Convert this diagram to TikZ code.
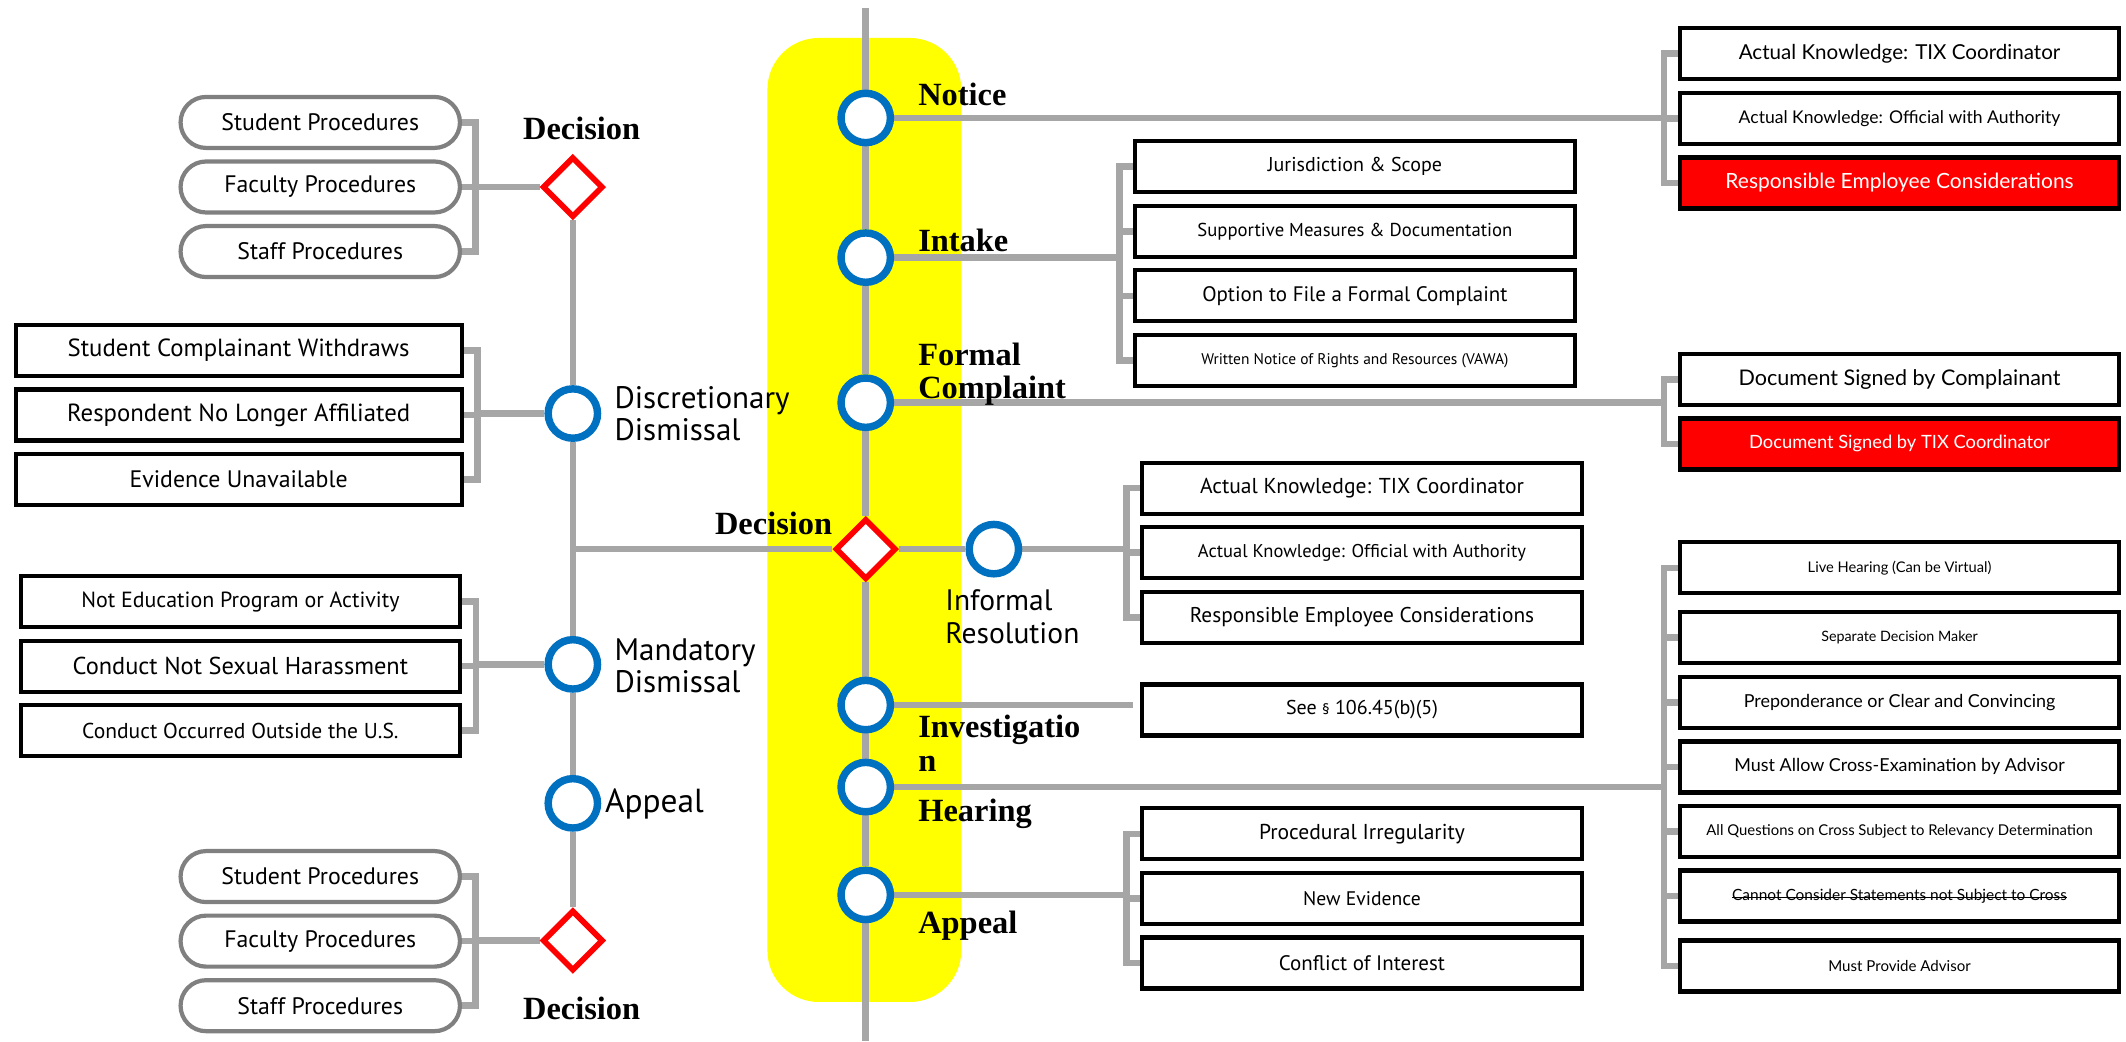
\documentclass[tikz,border=0pt]{standalone}
\usepackage{fontspec}
\setmainfont{PT Sans}
\newfontfamily\stagefont{Liberation Serif}
\newfontfamily\reqfont{Lato}
\usetikzlibrary{positioning,shapes.geometric,backgrounds}

\definecolor{linegray}{RGB}{166,166,166}
\definecolor{stopblue}{RGB}{0,112,192}
\definecolor{pillgray}{RGB}{128,128,128}
\definecolor{hilite}{RGB}{255,255,0}
\definecolor{flagred}{RGB}{255,0,0}

\newcommand\fsz[1]{\fontsize{#1}{#1}\selectfont}
\newsavebox\strikebox
\newcommand\strikeout[1]{\sbox\strikebox{#1}\rlap{\rule[0.3ex]{\wd\strikebox}{0.5pt}}\usebox\strikebox}

\tikzset{
  conn/.style={draw=linegray, line width=3.5pt},
  station/.style={circle, draw=stopblue, line width=3.9pt, fill=white,
    minimum size=0.91cm, inner sep=0pt},
  gate/.style={diamond, draw=flagred, line width=3pt, fill=white,
    minimum width=1.12cm, minimum height=1.12cm, inner sep=0pt},
  stagelab/.style={inner sep=0pt, align=left,
    font=\stagefont\bfseries\fontsize{17}{17.8}\selectfont},
  sidelab/.style={inner sep=0pt, align=left, font=\fontsize{16.3}{17}\selectfont},
  optbox/.style={rectangle, draw=black, line width=2.2pt, fill=white,
    minimum width=8.1cm, minimum height=0.94cm, inner sep=0pt, outer sep=0pt,
    font=\fsz{12.5}},
  pillbox/.style={optbox, draw=pillgray, rounded corners=0.47cm,
    minimum width=5.15cm},
  reqbox/.style={optbox, font=\reqfont\fsz{9}},
  redbox/.style={reqbox, fill=flagred, text=white},
  node distance=0.25cm
}

\begin{document}
\begin{tikzpicture}[x=0.025cm, y=-0.025cm]
\useasboundingbox (0,0) rectangle (1568,768);

% main line
\coordinate (top) at (638.5,6);
\coordinate (bottom) at (638.5,768);
\node[station] (notice) at (638.5,87) {};
\node[station] (intake) at (638.5,190) {};
\node[station] (formal) at (638.5,297) {};
\node[gate] (decision) at (638.5,405) {};
\node[station] (informal) at (733,405) {};
\node[station] (invest) at (638.5,520) {};
\node[station] (hearing) at (638.5,580.5) {};
\node[station] (appeal) at (638.5,660) {};

\node[stagelab, anchor=west] (noticelab) at (677,70) {Notice};
\node[stagelab, anchor=west] (intakelab) at (677,177) {Intake};
\node[stagelab, anchor=west] (formallab) at (677,276) {Formal\\Complaint};
\node[stagelab, anchor=east] (decisionlab) at (614,386) {Decision};
\node[sidelab, anchor=west, font=\fontsize{15.5}{17}\selectfont] (informallab) at (697,455) {Informal\\Resolution};
\node[stagelab, anchor=west] (investlab) at (677,548.5) {Investigatio\\n};
\node[stagelab, anchor=west] (hearinglab) at (677,600) {Hearing};
\node[stagelab, anchor=west] (appeallab) at (677,683) {Appeal};

% left line
\node[gate] (gtop) at (422.5,138) {};
\node[station] (disc) at (422.5,305) {};
\node[station] (mand) at (422.5,490) {};
\node[station] (lappeal) at (422.5,592.5) {};
\node[gate] (gbot) at (422.5,693.7) {};

\node[stagelab] (gtoplab) at (429,94.5) {Decision};
\node[sidelab, anchor=west] (disclab) at (453,305) {Discretionary\\Dismissal};
\node[sidelab, anchor=west] (mandlab) at (453,491) {Mandatory\\Dismissal};
\node[sidelab, anchor=west, font=\fsz{17.5}] (lappeallab) at (446,593) {Appeal};
\node[stagelab] (gbotlab) at (429,743.5) {Decision};

% notice
\node[reqbox, font=\reqfont\fsz{10.8}] (nk1) at (1401,39.7) {Actual Knowledge: TIX Coordinator};
\node[reqbox, font=\reqfont\fsz{9.2}, below=of nk1] (nk2) {Actual Knowledge: Official with Authority};
\node[redbox, font=\reqfont\fsz{11}, below=of nk2] (nk3) {Responsible Employee Considerations};
\coordinate[left=0.29cm of nk1.west] (nkb);

% intake
\node[optbox, font=\fsz{10.5}] (ik1) at (999.3,123) {Jurisdiction \& Scope};
\node[optbox, font=\fsz{9.8}, below=of ik1] (ik2) {Supportive Measures \& Documentation};
\node[optbox, font=\fsz{11}, below=of ik2] (ik3) {Option to File a Formal Complaint};
\node[optbox, font=\fsz{8.1}, below=of ik3] (ik4) {Written Notice of Rights and Resources (VAWA)};
\coordinate[left=0.29cm of ik1.west] (ikb);

% formal complaint
\node[reqbox, font=\reqfont\fsz{11.3}] (fk1) at (1401,279.8) {Document Signed by Complainant};
\node[redbox, font=\reqfont\fsz{9.6}, below=of fk1] (fk2) {Document Signed by TIX Coordinator};
\coordinate[left=0.29cm of fk1.west] (fkb);

% informal resolution
\node[optbox, font=\fsz{11.3}] (rk1) at (1004.5,360) {Actual Knowledge: TIX Coordinator};
\node[optbox, font=\fsz{9.7}, below=of rk1] (rk2) {Actual Knowledge: Official with Authority};
\node[optbox, font=\fsz{11.2}, below=of rk2] (rk3) {Responsible Employee Considerations};
\coordinate[left=0.29cm of rk1.west] (rkb);

% investigation
\node[optbox, font=\fsz{10.5}] (see) at (1004.5,523.6) {See {\fsz{8}§} 106.45(b)(5)};
\coordinate[left=0.17cm of see.west] (skb);

% hearing
\node[reqbox, font=\reqfont\fsz{7.7}] (hk1) at (1401,418.8) {Live Hearing (Can be Virtual)};
\node[reqbox, font=\reqfont\fsz{7.5}, below=0.35cm of hk1] (hk2) {Separate Decision Maker};
\node[reqbox, font=\reqfont\fsz{9.4}, below=of hk2] (hk3) {Preponderance or Clear and Convincing};
\node[reqbox, font=\reqfont\fsz{9.4}, below=of hk3] (hk4) {Must Allow Cross-Examination by Advisor};
\node[reqbox, font=\reqfont\fsz{7.8}, below=of hk4] (hk5) {All Questions on Cross Subject to Relevancy Determination};
\node[reqbox, font=\reqfont\fsz{8.1}, below=of hk5] (hk6) {\strikeout{Cannot Consider Statements not Subject to Cross}};
\node[reqbox, font=\reqfont\fsz{7.9}, below=0.35cm of hk6] (hk7) {Must Provide Advisor};
\coordinate[left=0.29cm of hk1.west] (hkb);

% appeal
\node[optbox, font=\fsz{11.3}] (ak1) at (1004.5,615) {Procedural Irregularity};
\node[optbox, font=\fsz{10.3}, below=of ak1] (ak2) {New Evidence};
\node[optbox, font=\fsz{11}, below=of ak2] (ak3) {Conflict of Interest};
\coordinate[left=0.29cm of ak1.west] (akb);

% left side groups
\node[pillbox] (tp1) at (236.2,90.3) {Student Procedures};
\node[pillbox, below=of tp1] (tp2) {Faculty Procedures};
\node[pillbox, below=of tp2] (tp3) {Staff Procedures};
\coordinate[right=0.29cm of tp1.east] (tpb);

\node[optbox, minimum width=8.22cm, font=\fsz{13}] (dk1) at (176,258.5) {Student Complainant Withdraws};
\node[optbox, minimum width=8.22cm, font=\fsz{13}, below=of dk1] (dk2) {Respondent No Longer Affiliated};
\node[optbox, minimum width=8.22cm, below=of dk2] (dk3) {Evidence Unavailable};
\coordinate[right=0.29cm of dk1.east] (dkb);

\node[optbox, font=\fsz{11.5}] (mk1) at (177.3,443.7) {Not Education Program or Activity};
\node[optbox, font=\fsz{12.8}, below=of mk1] (mk2) {Conduct Not Sexual Harassment};
\node[optbox, font=\fsz{11.3}, below=of mk2] (mk3) {Conduct Occurred Outside the U.S.};
\coordinate[right=0.29cm of mk1.east] (mkb);

\node[pillbox] (bp1) at (236.2,646.5) {Student Procedures};
\node[pillbox, below=of bp1] (bp2) {Faculty Procedures};
\node[pillbox, below=of bp2] (bp3) {Staff Procedures};
\coordinate[right=0.29cm of bp1.east] (bpb);

\begin{scope}[on background layer]
  \fill[white] (0,0) rectangle (1568,768);
  \fill[hilite, rounded corners=0.95cm] (566,28) rectangle (709,739);

  \draw[conn] (top) -- (notice) -- (intake) -- (formal) -- (decision)
    -- (invest) -- (hearing) -- (appeal) -- (bottom);
  \draw[conn] (gtop) -- (disc) -- (mand) -- (lappeal) -- (gbot);
  \draw[conn] (decision) -- (decision -| disc);
  \draw[conn] (decision) -- (informal);

  % right brackets
  \draw[conn] (notice) -- (notice -| nkb);
  \draw[conn] (nk1.west) -- (nkb) -- (nkb |- nk3.west) -- (nk3.west);
  \draw[conn] (nkb |- nk2.west) -- (nk2.west);

  \draw[conn] (intake) -- (intake -| ikb);
  \draw[conn] (ik1.west) -- (ikb) -- (ikb |- ik4.west) -- (ik4.west);
  \foreach \i in {2,3} \draw[conn] (ikb |- ik\i.west) -- (ik\i.west);

  \draw[conn] (formal) -- (formal -| fkb);
  \draw[conn] (fk1.west) -- (fkb) -- (fkb |- fk2.west) -- (fk2.west);

  \draw[conn] (informal) -- (informal -| rkb);
  \draw[conn] (rk1.west) -- (rkb) -- (rkb |- rk3.west) -- (rk3.west);
  \draw[conn] (rkb |- rk2.west) -- (rk2.west);

  \draw[conn] (invest) -- (invest -| skb); % stops short of the box

  \draw[conn] (hearing) -- (hearing -| hkb);
  \draw[conn] (hk1.west) -- (hkb) -- (hkb |- hk7.west) -- (hk7.west);
  \foreach \i in {2,...,6} \draw[conn] (hkb |- hk\i.west) -- (hk\i.west);

  \draw[conn] (appeal) -- (appeal -| akb);
  \draw[conn] (ak1.west) -- (akb) -- (akb |- ak3.west) -- (ak3.west);
  \draw[conn] (akb |- ak2.west) -- (ak2.west);

  % left brackets
  \draw[conn] (gtop) -- (gtop -| tpb);
  \draw[conn] (tp1.east) -- (tpb) -- (tpb |- tp3.east) -- (tp3.east);
  \draw[conn] (tpb |- tp2.east) -- (tp2.east);

  \draw[conn] (disc) -- (disc -| dkb);
  \draw[conn] (dk1.east) -- (dkb) -- (dkb |- dk3.east) -- (dk3.east);
  \draw[conn] (dkb |- dk2.east) -- (dk2.east);

  \draw[conn] (mand) -- (mand -| mkb);
  \draw[conn] (mk1.east) -- (mkb) -- (mkb |- mk3.east) -- (mk3.east);
  \draw[conn] (mkb |- mk2.east) -- (mk2.east);

  \draw[conn] (gbot) -- (gbot -| bpb);
  \draw[conn] (bp1.east) -- (bpb) -- (bpb |- bp3.east) -- (bp3.east);
  \draw[conn] (bpb |- bp2.east) -- (bp2.east);
\end{scope}
\end{tikzpicture}
\end{document}
